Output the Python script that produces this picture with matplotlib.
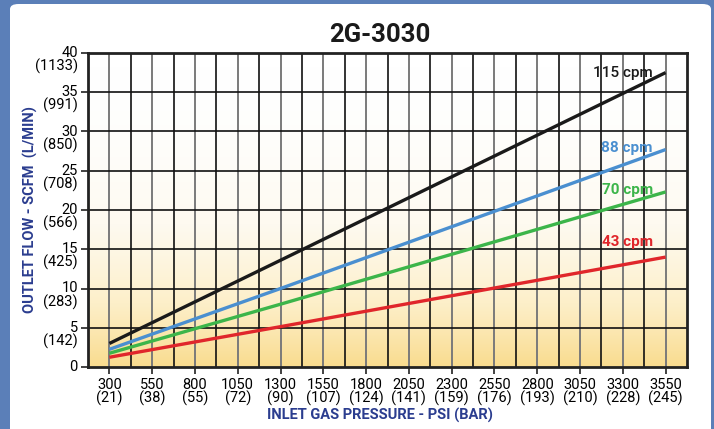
import numpy as np
import matplotlib
matplotlib.use('Agg')
import matplotlib.pyplot as plt
from matplotlib.patches import FancyBboxPatch
from matplotlib.colors import LinearSegmentedColormap
import matplotlib.transforms as mtransforms

''' Data '''
psi_ticks = [300, 550, 800, 1050, 1300, 1550, 1800, 2050, 2300, 2550, 2800, 3050, 3300, 3550]
bar_ticks = [21, 38, 55, 72, 90, 107, 124, 141, 159, 176, 193, 210, 228, 245]
scfm_ticks = [0, 5, 10, 15, 20, 25, 30, 35, 40]
lmin_ticks = [None, 142, 283, 425, 566, 708, 850, 991, 1133]

psi_pts = [300, 1300, 3550]
flow_115 = [3.0, 13.6, 37.5]
flow_88 = [2.25, 10.0, 27.7]
flow_70 = [1.75, 8.0, 22.3]
flow_43 = [1.24, 5.14, 14.0]

series = [('115 cpm', flow_115, '#1a1a1a', 37.4, 'medium'),
          ('88 cpm', flow_88, '#4a8fd0', 27.9, 'bold'),
          ('70 cpm', flow_70, '#3cb54a', 22.6, 'bold'),
          ('43 cpm', flow_43, '#e0262b', 15.9, 'bold')]

label_blue = '#2b3d8f'
plt.rcParams['font.family'] = ['Roboto', 'DejaVu Sans']

fig = plt.figure(figsize=(7.14, 4.29), dpi=100)
fig.patch.set_facecolor('#5b7fb8')
panel = FancyBboxPatch((10/714, -0.05), 701/714, 1.05 - 4/429,
                       boxstyle='round,pad=0,rounding_size=0.012',
                       transform=fig.transFigure, facecolor='white',
                       edgecolor='none', zorder=-10)
fig.patches.append(panel)

ax = fig.add_axes([88/714, 1 - 367/429, 599/714, 314/429])
ax.set_zorder(5)
ax.set_xlim(175, 3675)
ax.set_ylim(0, 40)

# gradient background (white top -> pale yellow bottom)
cmap = LinearSegmentedColormap.from_list('grad', ['#ffffff', '#fefaf0', '#fdefc9', '#f9dc8f'])
grad = np.linspace(0, 1, 256).reshape(-1, 1) ** 1.8
ax.imshow(grad, aspect='auto', cmap=cmap, extent=[0, 1, 0, 1],
          transform=ax.transAxes, zorder=0, origin='upper')

# grid
for x in np.arange(300, 3675, 250):
    ax.axvline(x, color='#7a7a7a', lw=1.4, zorder=1)
for x in np.arange(425, 3675, 250):
    ax.axvline(x, color='#111111', lw=1.2, zorder=1)
for y in scfm_ticks[1:-1]:
    ax.axhline(y, color='#111111', lw=1.2, zorder=1)

for name, vals, col, ly, wt in series:
    ax.plot(psi_pts, vals, color=col, lw=2.4, solid_capstyle='butt', zorder=3)
    ax.text(3475, ly, name, color=col, fontsize=11, fontweight=wt,
            ha='right', va='center', zorder=4)

for s in ax.spines.values():
    s.set_linewidth(2)
    s.set_color('#222222')

ax.set_xticks(psi_ticks)
ax.set_xticklabels([f'{p}\n({b})' for p, b in zip(psi_ticks, bar_ticks)],
                   fontsize=10.5, linespacing=0.85)
ax.tick_params(axis='x', length=5, width=1.2, color='#222222', pad=3)
ax.set_yticks(scfm_ticks)
ax.set_yticklabels([])
ax.tick_params(axis='y', length=5, width=1.2, color='#222222')

ytrans = mtransforms.blended_transform_factory(ax.transAxes, ax.transData)
for v, l in zip(scfm_ticks, lmin_ticks):
    txt = f'{v}' if l is None else f'{v}\n({l})'
    t = ax.text(-0.017, v, txt, transform=ytrans, fontsize=10.5, ha='right',
                va='top', linespacing=0.9, multialignment='right')
    t.set_transform(ytrans + mtransforms.ScaledTranslation(0, 7/100, fig.dpi_scale_trans))

fig.text(380/714, 1 - 35/429, '2G-3030', fontsize=18.5, fontweight='bold',
         ha='center', va='center', color='#1a1a1a')
fig.text(380/714, 1 - 415/429, 'INLET GAS PRESSURE - PSI (BAR)', fontsize=10.5,
         fontweight='bold', ha='center', va='center', color=label_blue)
fig.text(30/714, 1 - 210/429, 'OUTLET FLOW - SCFM  (L/MIN)', fontsize=10.5,
         fontweight='bold', ha='center', va='center', rotation=90, color=label_blue)

fig.savefig('out.png', dpi=100, facecolor=fig.get_facecolor())
